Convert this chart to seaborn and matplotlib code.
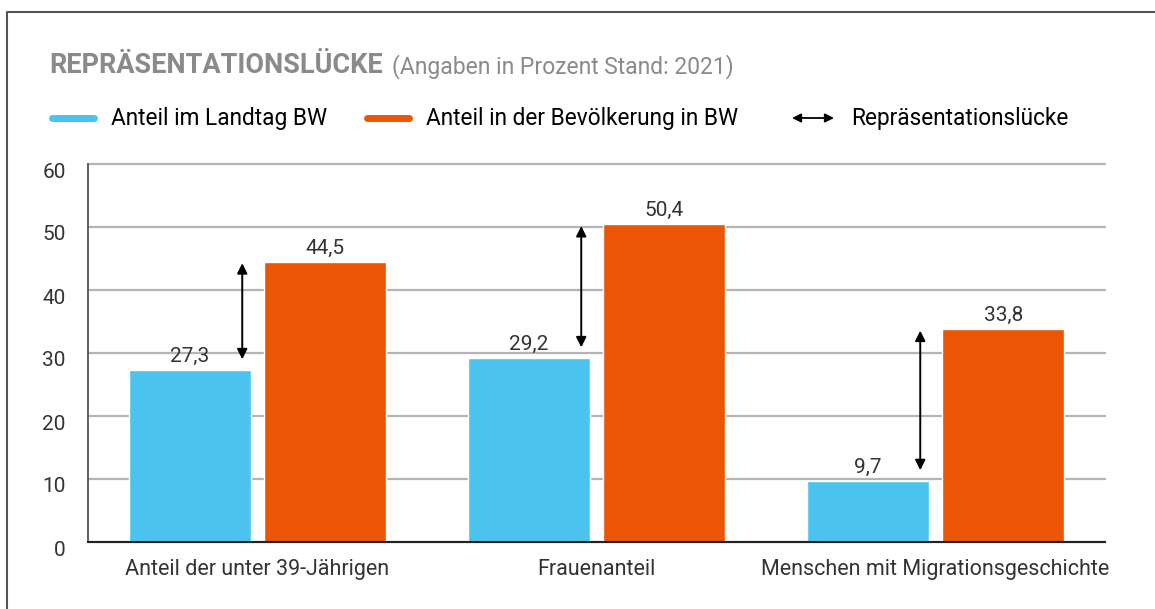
import matplotlib
matplotlib.use("Agg")
import matplotlib.pyplot as plt
from matplotlib.lines import Line2D
from matplotlib.patches import FancyArrowPatch
from matplotlib.transforms import ScaledTranslation
import seaborn as sns
import pandas as pd

# Data
categories = ["Anteil der unter 39-Jährigen", "Frauenanteil", "Menschen mit Migrationsgeschichte"]
landtag = [27.3, 29.2, 9.7]
bevoelkerung = [44.5, 50.4, 33.8]
series = ["Anteil im Landtag BW", "Anteil in der Bevölkerung in BW"]
gap_label = "Repräsentationslücke"
yticks = [0, 10, 20, 30, 40, 50, 60]

BLUE = "#4cc3ee"
ORANGE = "#eb5505"
GREY_TITLE = "#8a8a8a"

df = pd.DataFrame({
    "Kategorie": categories * 2,
    "Reihe": [series[0]] * len(categories) + [series[1]] * len(categories),
    "Wert": landtag + bevoelkerung,
})

sns.set_theme(style="white")
plt.rcParams["font.family"] = ["Roboto", "DejaVu Sans"]

W, H = 1155, 609
fig = plt.figure(figsize=(W / 100, H / 100), dpi=100)
ax = fig.add_axes([88 / W, 1 - 542 / H, (1105 - 88) / W, (542 - 164) / H])

sns.barplot(data=df, x="Kategorie", y="Wert", hue="Reihe", hue_order=series,
            palette=[BLUE, ORANGE], width=0.8, gap=0.1, saturation=1,
            legend=False, ax=ax)

# value labels with German decimal comma
for container, vals in zip(ax.containers, [landtag, bevoelkerung]):
    ax.bar_label(container, labels=[f"{v:.1f}".replace(".", ",") for v in vals],
                 padding=3, fontsize=15, color="#333333")

# gap arrows
for i, (lo, hi) in enumerate(zip(landtag, bevoelkerung)):
    ax.annotate("", xy=(i - 0.045, hi - 0.25), xytext=(i - 0.045, lo + 1.7),
                arrowprops=dict(arrowstyle="<|-|>", color="black", lw=1.4,
                                mutation_scale=15, shrinkA=0, shrinkB=0))

# axes styling
ax.set_xlim(-0.5, 2.5)
ax.set_ylim(0, 60)
ax.set_yticks(yticks)
ax.set_xlabel("")
ax.set_ylabel("")
ax.yaxis.grid(True, color="#b4b4b4", lw=1.6)
for gl in ax.get_ygridlines():
    gl.set_clip_on(False)
ax.set_axisbelow(True)
ax.spines["top"].set_visible(False)
ax.spines["right"].set_visible(False)
ax.spines["left"].set_color("#555555")
ax.spines["left"].set_linewidth(1.3)
ax.spines["bottom"].set_color("#222222")
ax.spines["bottom"].set_linewidth(1.5)
ax.tick_params(axis="y", length=0, pad=16, labelsize=15, labelcolor="#333333")
ax.tick_params(axis="x", which="major", length=0, pad=12, labelsize=15.5, labelcolor="#333333")
ax.set_xticks([0.5, 1.5, 2.5], minor=True)
ax.tick_params(axis="x", which="minor", length=9, direction="inout", width=1.3, color="#555555")
for lab in ax.get_yticklabels():
    lab.set_transform(lab.get_transform() + ScaledTranslation(0, -0.06, fig.dpi_scale_trans))

# title
fig.text(49 / W, 1 - 73 / H, "REPRÄSENTATIONSLÜCKE", fontsize=19.5, fontweight="bold",
         color=GREY_TITLE, va="baseline")
fig.text(392 / W, 1 - 73 / H, "(Angaben in Prozent Stand: 2021)", fontsize=16.5,
         color=GREY_TITLE, va="baseline")

# legend
ly = 1 - 118 / H
fig.add_artist(Line2D([52 / W, 94 / W], [ly, ly], transform=fig.transFigure,
                      color=BLUE, lw=5, solid_capstyle="round"))
fig.text(111 / W, 1 - 125 / H, series[0], fontsize=16.3, color="black", va="baseline")
fig.add_artist(Line2D([367 / W, 409 / W], [ly, ly], transform=fig.transFigure,
                      color=ORANGE, lw=5, solid_capstyle="round"))
fig.text(426 / W, 1 - 125 / H, series[1], fontsize=16.3, color="black", va="baseline")
fig.add_artist(FancyArrowPatch((792 / W, ly), (834 / W, ly), transform=fig.transFigure,
                               arrowstyle="<|-|>", color="black", lw=1.3,
                               mutation_scale=13, shrinkA=0, shrinkB=0))
fig.text(851 / W, 1 - 125 / H, gap_label, fontsize=16.3, color="black", va="baseline")

# frame (top and left edges)
fig.add_artist(Line2D([7 / W, 7 / W, 1], [0, 1 - 12 / H, 1 - 12 / H],
                      transform=fig.transFigure, color="#555555", lw=1.5))

fig.savefig("out.png", dpi=100)
